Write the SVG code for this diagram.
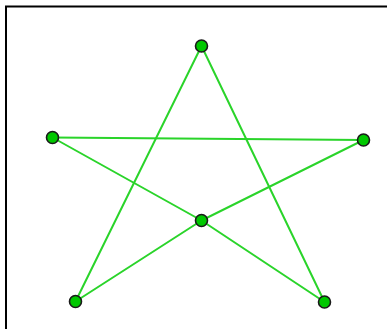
<svg xmlns="http://www.w3.org/2000/svg" width="387" height="329" viewBox="0 0 387 329">
<style>
.frame{fill:none;stroke:#000;stroke-width:2}
.edge{stroke:#2ad42a;stroke-width:2;fill:none;stroke-linecap:round}
.node{fill:#00c800;stroke:#1a1a1a;stroke-width:1.6}
</style>
<rect width="387" height="329" fill="#fff"/>
<path class="frame" d="M6,329 V6.5 H388"/>
<g id="connectors">
<line class="edge" x1="201.5" y1="46" x2="75.5" y2="301.5"/>
<line class="edge" x1="75.5" y1="301.5" x2="201.5" y2="220.5"/>
<line class="edge" x1="201.5" y1="220.5" x2="363.5" y2="140"/>
<line class="edge" x1="363.5" y1="140" x2="52.5" y2="137.5"/>
<line class="edge" x1="52.5" y1="137.5" x2="201.5" y2="220.5"/>
<line class="edge" x1="201.5" y1="220.5" x2="324.5" y2="302"/>
<line class="edge" x1="324.5" y1="302" x2="201.5" y2="46"/>
</g>
<g id="n-top"><circle class="node" cx="201.5" cy="46" r="6"/></g>
<g id="n-left"><circle class="node" cx="52.5" cy="137.5" r="6"/></g>
<g id="n-right"><circle class="node" cx="363.5" cy="140" r="6"/></g>
<g id="n-center"><circle class="node" cx="201.5" cy="220.5" r="6"/></g>
<g id="n-bottomleft"><circle class="node" cx="75.5" cy="301.5" r="6"/></g>
<g id="n-bottomright"><circle class="node" cx="324.5" cy="302" r="6"/></g>
</svg>
